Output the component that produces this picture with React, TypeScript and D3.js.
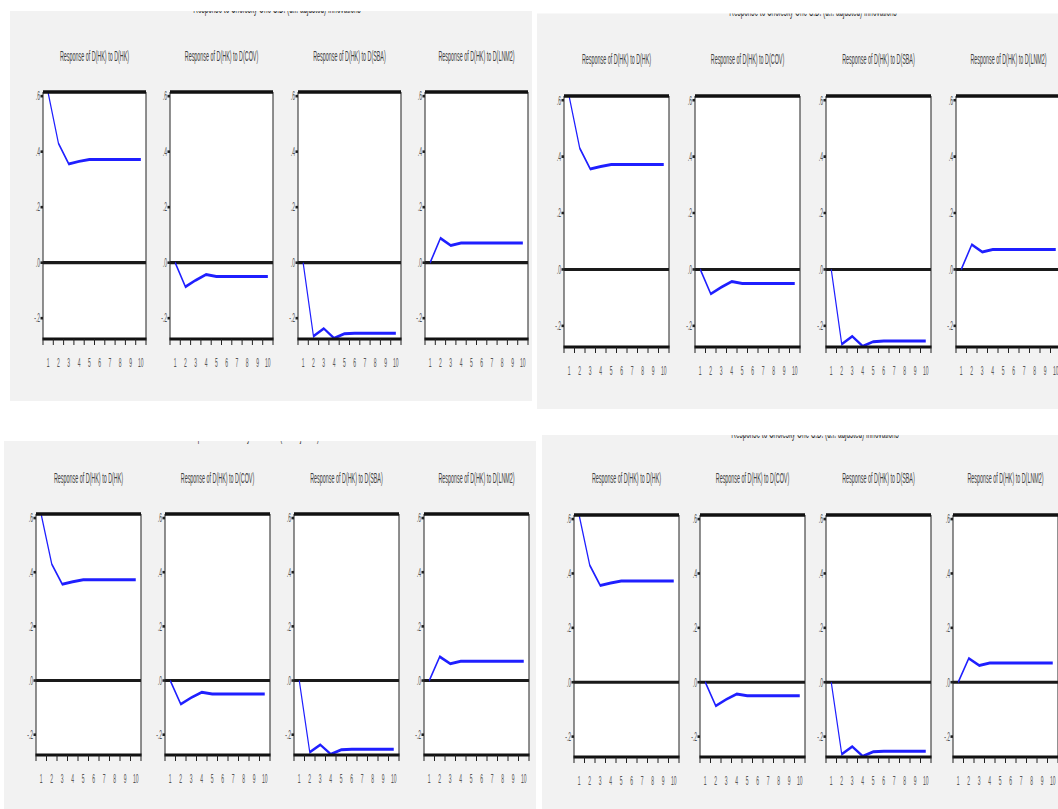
import React from 'react';
import * as d3 from 'd3';

const periods = [1, 2, 3, 4, 5, 6, 7, 8, 9, 10];
const respHK = [0.612, 0.43, 0.356, 0.365, 0.372, 0.372, 0.372, 0.372, 0.372, 0.372];
const respCOV = [0, -0.087, -0.063, -0.043, -0.05, -0.05, -0.05, -0.05, -0.05, -0.05];
const respSBA = [0, -0.265, -0.237, -0.272, -0.256, -0.254, -0.254, -0.254, -0.254, -0.254];
const respLNM2 = [0, 0.088, 0.062, 0.071, 0.071, 0.071, 0.071, 0.071, 0.071, 0.071];
const seriesList = [respHK, respCOV, respSBA, respLNM2];
const panelTitles = [
  'Response of D(HK) to D(HK)',
  'Response of D(HK) to D(COV)',
  'Response of D(HK) to D(SBA)',
  'Response of D(HK) to D(LNM2)',
];
const yTicks = [0.6, 0.4, 0.2, 0, -0.2];
const yTickLabels = ['.6', '.4', '.2', '.0', '-.2'];
const yDomain = [-0.275, 0.615];
const chartTitle = 'Response to Cholesky One S.D. (d.f. adjusted) Innovations';

type Quad = {
  bg: [number, number, number, number];
  titleX: number;
  titleY: number;
  subY: number;
  lefts: number[];
  w: number;
  top: number;
  bottom: number;
};

const quads: Quad[] = [
  { bg: [10, 11, 532, 401], titleX: 277, titleY: 13, subY: 61, lefts: [43, 170, 298, 425], w: 103, top: 92, bottom: 339 },
  { bg: [537, 13.5, 1058, 409], titleX: 813, titleY: 16, subY: 64, lefts: [564, 695, 826, 956], w: 105, top: 96, bottom: 347 },
  { bg: [4, 441, 536, 809], titleX: 270, titleY: 441, subY: 483, lefts: [36, 165, 294, 424], w: 105, top: 514, bottom: 755 },
  { bg: [542, 435, 1058, 809], titleX: 815, titleY: 438, subY: 483, lefts: [574, 700, 826, 953], w: 105, top: 515, bottom: 757 },
];

const S = 2.6; // vertical stretch of the screenshot
const FONT = '"Liberation Sans", Arial, sans-serif';

function StretchText(props: { x: number; y: number; size: number; anchor: string; fill?: string; children: React.ReactNode }) {
  return (
    <text
      transform={`translate(${props.x},${props.y}) scale(1,${S})`}
      fontSize={props.size}
      textAnchor={props.anchor}
      fill={props.fill || '#3a3a3a'}
      fontFamily={FONT}
    >
      {props.children}
    </text>
  );
}

function Panel(props: { q: Quad; i: number }) {
  const { q, i } = props;
  const left = q.lefts[i];
  const right = left + q.w;
  const x = d3.scaleLinear().domain([0.5, 10.5]).range([left, right]);
  const y = d3.scaleLinear().domain(yDomain).range([q.bottom, q.top]);
  const data = seriesList[i];
  const line = d3
    .line<number>()
    .x((_, k) => x(periods[k]))
    .y((v) => y(v) / S);
  const xTicks = d3.range(0.5, 11, 1);
  return (
    <g>
      <g transform={`scale(1,${S})`}>
        <rect x={left} y={q.top / S} width={q.w} height={(q.bottom - q.top) / S} fill="#fff" />
        <line x1={left} x2={right} y1={y(0) / S} y2={y(0) / S} stroke="#1a1a1a" strokeWidth={1.2} />
        <path d={line(data) || ''} fill="none" stroke="#1f1fff" strokeWidth={1.15} />
        <line x1={left} x2={left} y1={q.top / S} y2={q.bottom / S} stroke="#222" strokeWidth={1} />
        <line x1={right} x2={right} y1={q.top / S} y2={q.bottom / S} stroke="#222" strokeWidth={1} />
        <line x1={left} x2={right} y1={q.top / S} y2={q.top / S} stroke="#111" strokeWidth={1.3} />
        <line x1={left - 0.5} x2={right + 0.5} y1={q.bottom / S} y2={q.bottom / S} stroke="#111" strokeWidth={1.2} />
        {xTicks.map((t) => (
          <line key={t} x1={x(t)} x2={x(t)} y1={q.bottom / S} y2={(q.bottom + 6) / S} stroke="#222" strokeWidth={1} />
        ))}
        {yTicks.map((t) => (
          <line key={t} x1={left - 2.5} x2={left} y1={y(t) / S} y2={y(t) / S} stroke="#222" strokeWidth={1} />
        ))}
      </g>
      {yTicks.map((t, k) => (
        <StretchText key={t} x={left - 3} y={y(t) + 4.3} size={5} anchor="end" fill="#555">
          {yTickLabels[k]}
        </StretchText>
      ))}
      {periods.map((p) => (
        <StretchText key={p} x={x(p)} y={q.bottom + 28} size={5} anchor="middle" fill="#555">
          {String(p)}
        </StretchText>
      ))}
      <StretchText x={(left + right) / 2} y={q.subY} size={5.4} anchor="middle" fill="#3f3f3f">
        {panelTitles[i]}
      </StretchText>
    </g>
  );
}

export default function App() {
  return (
    <svg width={1058} height={809} style={{ position: 'absolute', left: 0, top: 0 }}>
      <rect x={0} y={0} width={1058} height={809} fill="#fff" />
      <defs>
        {quads.map((q, qi) => (
          <clipPath id={`clip${qi}`} key={qi}>
            <rect x={q.bg[0]} y={q.bg[1]} width={q.bg[2] - q.bg[0]} height={q.bg[3] - q.bg[1]} />
          </clipPath>
        ))}
      </defs>
      {quads.map((q, qi) => (
        <g key={qi}>
          <rect x={q.bg[0]} y={q.bg[1]} width={q.bg[2] - q.bg[0]} height={q.bg[3] - q.bg[1]} fill="#f2f2f2" />
          <g clipPath={`url(#clip${qi})`}>
            <StretchText x={q.titleX} y={q.titleY} size={6.4} anchor="middle" fill="#333">
              {chartTitle}
            </StretchText>
            {panelTitles.map((_, i) => (
              <Panel key={i} q={q} i={i} />
            ))}
          </g>
        </g>
      ))}
    </svg>
  );
}
